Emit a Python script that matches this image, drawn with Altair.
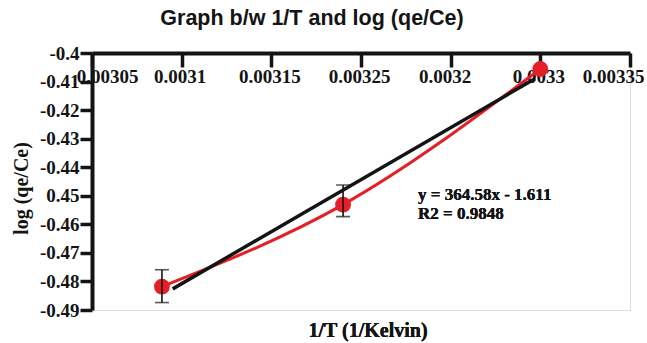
import altair as alt
import pandas as pd

# ---- data ----
pt_x = [0.003089, 0.003190, 0.003300]
pt_y = [-0.4818, -0.4531, -0.4056]

err_x = [0.003089, 0.003190]
err_lo = [-0.4874, -0.4573]
err_hi = [-0.4759, -0.4462]

fit_x = [0.003095, 0.003297]
fit_y = [-0.4826, -0.4090]

x_ticks = [0.00305, 0.0031, 0.00315, 0.0032, 0.00325, 0.0033, 0.00335]
x_tick_labels = ["0.00305", "0.0031", "0.00315", "0.00325", "0.0032", "0.0033", "0.00335"]
y_ticks = [-0.4, -0.41, -0.42, -0.43, -0.44, -0.45, -0.46, -0.47, -0.48, -0.49]
y_tick_labels = ["-0.4", "-0.41", "-0.42", "-0.43", "-0.44", "0.45", "-0.46", "-0.47", "-0.48", "-0.49"]

eq_lines = ["y = 364.58x - 1.611", "R2 = 0.9848"]

RED = "#e51f27"
BLACK = "#141414"
SERIF = "Liberation Serif"

W, H = 538, 257

pts = pd.DataFrame({"x": pt_x, "y": pt_y})
errs = pd.DataFrame({"x": err_x, "lo": err_lo, "hi": err_hi})
fit = pd.DataFrame({"x": fit_x, "y": fit_y})


def arr(lst):
    return "[" + ",".join("'" + s + "'" for s in lst) + "]"


x_label_expr = f"{arr(x_tick_labels)}[round((datum.value - {x_ticks[0]}) / 0.00005)]"
y_label_expr = f"{arr(y_tick_labels)}[round(({y_ticks[0]} - datum.value) / 0.01)]"

xscale = alt.Scale(domain=[x_ticks[0], x_ticks[-1]], nice=False, zero=False)
yscale = alt.Scale(domain=[y_ticks[-1], y_ticks[0]], nice=False, zero=False)

x_axis = alt.Axis(
    orient="bottom", offset=-H, values=x_ticks, tickCount=30, labelExpr=x_label_expr,
    title=None, grid=False, domainColor=BLACK, domainWidth=4,
    tickColor=BLACK, tickWidth=3.5, tickSize=14,
    labelFont=SERIF, labelFontWeight="bold", labelFontSize=19, labelColor=BLACK,
    labelPadding=0, labelFlush=False, labelOverlap=False, labelBound=False,
    labelOffset={"condition": [
        {"test": "datum.value < 0.003055", "value": 15},
        {"test": "datum.value > 0.003345", "value": -17},
        {"test": "abs(datum.value - 0.00325) < 0.000001", "value": -6},
    ], "value": -2},
)
y_axis = alt.Axis(
    values=y_ticks, tickCount=30, labelExpr=y_label_expr,
    title="log (qe/Ce)", titleFont=SERIF, titleFontWeight="bold", titleFontSize=20,
    titleColor=BLACK, titleX=-71, titleY=135, titleAngle=270, titleAlign="center",
    titleBaseline="middle",
    grid=False, domainColor=BLACK, domainWidth=4,
    tickColor=BLACK, tickWidth=3.5, tickSize=12,
    labelFont=SERIF, labelFontWeight="bold", labelFontSize=19, labelColor=BLACK,
    labelPadding=1, labelFlush=False, labelOverlap=False,
)

base = alt.Chart(pts)

red_line = base.mark_line(color=RED, strokeWidth=3, interpolate="monotone").encode(
    x=alt.X("x:Q", scale=xscale, axis=x_axis),
    y=alt.Y("y:Q", scale=yscale, axis=y_axis),
)

black_line = alt.Chart(fit).mark_line(color=BLACK, strokeWidth=3.5).encode(
    x=alt.X("x:Q", scale=xscale),
    y=alt.Y("y:Q", scale=yscale),
)

points = base.mark_point(filled=True, color=RED, opacity=1, size=250).encode(
    x=alt.X("x:Q", scale=xscale),
    y=alt.Y("y:Q", scale=yscale),
)

err_rule = alt.Chart(errs).mark_rule(color=BLACK, strokeWidth=1.6).encode(
    x=alt.X("x:Q", scale=xscale),
    y=alt.Y("lo:Q", scale=yscale),
    y2="hi:Q",
)
cap_lo = alt.Chart(errs).mark_tick(color=BLACK, thickness=1.6, size=14, orient="horizontal").encode(
    x=alt.X("x:Q", scale=xscale),
    y=alt.Y("lo:Q", scale=yscale),
)
cap_hi = alt.Chart(errs).mark_tick(color=BLACK, thickness=1.6, size=14, orient="horizontal").encode(
    x=alt.X("x:Q", scale=xscale),
    y=alt.Y("hi:Q", scale=yscale),
)

eq1 = alt.Chart(pts).mark_text(
    text=eq_lines[0], font=SERIF, fontWeight="bold", fontSize=17, color=BLACK,
    align="left", baseline="alphabetic",
).encode(x=alt.value(326), y=alt.value(147))
eq2 = alt.Chart(pts).mark_text(
    text=eq_lines[1], font=SERIF, fontWeight="bold", fontSize=17, color=BLACK,
    align="left", baseline="alphabetic",
).encode(x=alt.value(326), y=alt.value(166))

x_title = alt.Chart(pts).mark_text(
    text="1/T (1/Kelvin)", font=SERIF, fontWeight="bold", fontSize=20, color=BLACK,
    align="center", baseline="alphabetic",
).encode(x=alt.value(276), y=alt.value(284))

chart = alt.layer(
    red_line, black_line, points, err_rule, cap_lo, cap_hi, eq1, eq2, x_title
).properties(
    width=W, height=H,
    title=alt.TitleParams(
        "Graph b/w 1/T and log (qe/Ce)", font="Liberation Sans", fontSize=21.5,
        fontWeight="bold", color=BLACK, anchor="middle", dx=-49, offset=15,
    ),
    autosize=alt.AutoSizeParams(type="none"),
    padding={"left": 92, "top": 53, "right": 17, "bottom": 33},
).configure_view(stroke=None).configure(background="white")

chart.save("out.html", embed_options={"renderer": "svg", "actions": False})
